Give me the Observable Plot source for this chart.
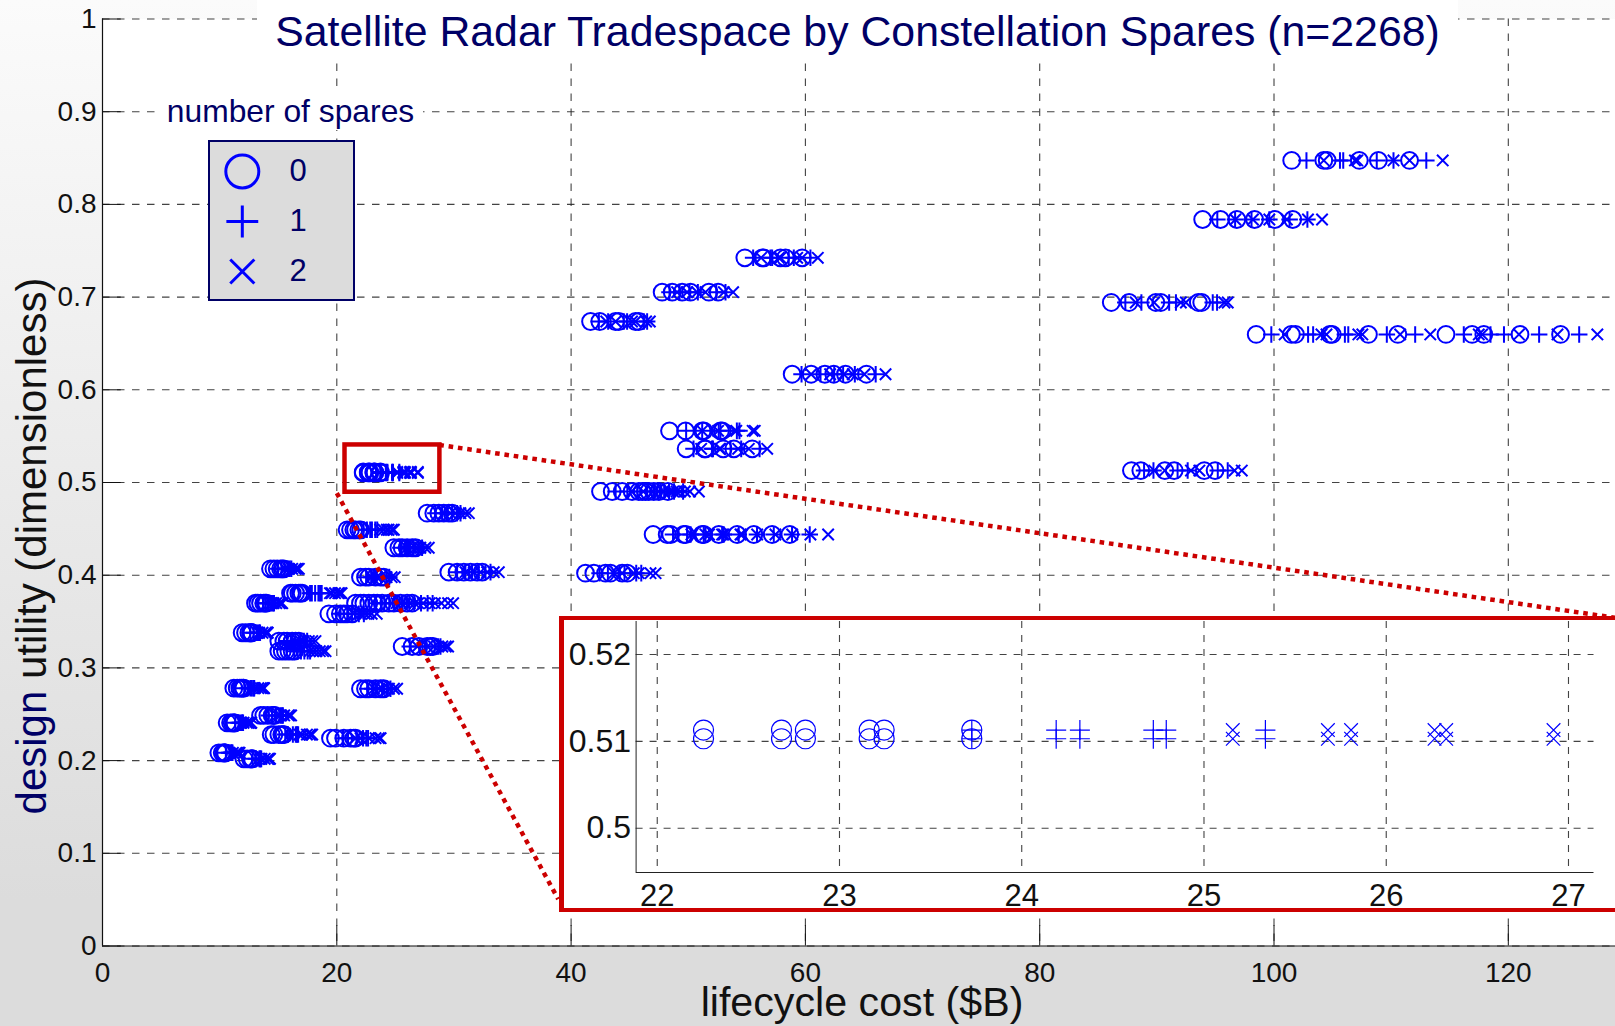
<!DOCTYPE html>
<html><head><meta charset="utf-8">
<script src="https://cdn.jsdelivr.net/npm/d3@7"></script>
<script src="https://cdn.jsdelivr.net/npm/@observablehq/plot@0.6"></script>
<style>
html,body{margin:0;padding:0;background:#fff}
#stage{position:relative;width:1615px;height:1026px;overflow:hidden;font-family:"Liberation Sans",sans-serif;
background:linear-gradient(180deg,#fbfbfb 0,#dcdcdc 900px,#dcdcdc 100%)}
#stage>*{position:absolute}
#title{left:257px;top:0;width:1201px;height:62px;background:#fff;color:#000066;font-size:42.8px;text-align:center;line-height:62px;white-space:nowrap}
#sparesTitle{left:158px;top:93px;width:265px;height:37px;background:#fff;color:#000066;font-size:31.8px;text-align:center;line-height:37px;white-space:nowrap}
#legendBox{left:208px;top:140px;width:147px;height:161px;box-sizing:border-box;border:2px solid #000066;background:#dcdcdc}
#insetBox{left:559px;top:616px;width:1100px;height:296px;box-sizing:border-box;border:solid #cc0000;border-width:4px 4px 4px 5px;background:#fff}
svg{overflow:visible}
</style></head><body>
<div id="stage"></div>
<script>
const chartTitle = "Satellite Radar Tradespace by Constellation Spares (n=2268)";
const xTicks = [0,20,40,60,80,100,120];
const yTicks = [0,0.1,0.2,0.3,0.4,0.5,0.6,0.7,0.8,0.9,1];
const insetXTicks = [22,23,24,25,26,27];
const insetYTicks = [0.5,0.51,0.52];
const spareLevels = [0,1,2];

const utilities = [0.8474,0.7837,0.7424,0.7053,0.6942,0.6737,0.6597,0.6168,0.5557,0.5363,0.5129,0.5113,0.5103,0.4903,0.4669,0.449,0.4439,0.4296,0.4069,0.4033,0.4022,0.3979,0.3806,0.3698,0.3698,0.3583,0.3379,0.3289,0.3231,0.318,0.2781,0.2775,0.2487,0.2408,0.2281,0.2242,0.2084,0.2019];

const spares0Costs = [
[101.51,104.25,104.54,107.28,108.91,111.57],
[93.91,95.43,96.83,98.34,100.08,101.6],
[54.83,56.31,56.45,57.87,58.3,59.72],
[47.77,48.63,49.48,50.19,51.76,52.55],
[86.11,87.63,89.91,90.34,93.54,93.83],
[41.66,42.45,43.79,44.07,45.5,45.78],
[98.48,101.48,101.83,104.77,104.97,108.06,110.57,114.68,116.91,117.91,121.0,124.46],
[58.87,60.49,61.66,62.42,63.42,65.21],
[48.4,49.77,51.19,51.33,52.75,52.9],
[49.82,51.39,51.48,52.98,53.89,55.46],
[87.83,88.63,90.68,91.48,94.05,94.97],
[22.254,22.682,22.813,23.163,23.245,23.726],
[22.254,22.682,22.813,23.163,23.245,23.726],
[42.51,43.51,44.36,45.21,45.78,46.07,46.35,46.64,47.06,47.49,48.26],
[27.71,28.28,28.71,29.13,29.56,29.85],
[20.88,21.17,21.45,21.6,21.88,22.05],
[47.0,48.2,48.5,49.62,49.77,51.19,51.33,52.61,54.17,55.6,57.16,58.67],
[24.87,25.3,25.58,26.0,26.43,26.72],
[14.34,14.63,14.91,15.2,15.34,15.48],
[29.56,30.27,30.84,31.41,31.98,32.41],
[41.23,41.94,42.94,43.36,44.36,44.79],
[22.02,22.45,22.73,23.3,23.73,24.0],
[16.05,16.2,16.48,16.76,16.9,17.04],
[13.06,13.26,13.49,13.77,13.9,14.0],
[21.6,22.02,22.31,22.73,23.16,23.45,23.87,24.44,24.87,25.44,26.0,26.43],
[19.32,19.89,20.3,20.6,20.88,21.31],
[11.92,12.21,12.49,12.63,12.7,12.75],
[15.05,15.48,15.76,16.19,16.48,16.76],
[25.58,26.43,27.0,27.71,28.0,28.2],
[15.05,15.34,15.62,15.91,16.19,16.4],
[11.21,11.5,11.72,11.85,12.0,12.05],
[22.02,22.45,22.73,23.3,23.73,24.0],
[13.49,13.77,14.11,14.48,14.6,14.7],
[10.64,10.93,11.07,11.2,11.25,11.3],
[14.4,14.63,15.05,15.3,15.4,15.5],
[19.46,19.89,20.6,21.17,21.45,21.6],
[9.93,10.22,10.36,10.4,10.45,10.5],
[12.07,12.35,12.63,12.7,12.75,12.8]
];
const spares1Costs = [
[102.77,105.63,105.91,108.77,110.2,113.0],
[95.16,96.68,98.08,99.6,101.33,102.85],
[55.54,57.02,57.16,58.58,59.01,60.43],
[48.4,49.26,50.11,50.82,52.39,53.18],
[87.31,88.68,91.05,91.63,94.77,95.14],
[42.37,43.16,44.5,44.78,46.21,46.49],
[99.77,102.91,103.34,106.05,106.34,109.63,112.05,116.2,118.48,119.63,122.63,126.05],
[59.67,61.29,62.46,63.22,64.22,66.0],
[49.82,51.19,52.6,52.75,54.15,54.37],
[50.45,52.02,52.11,53.61,54.52,56.09],
[88.91,89.71,91.77,92.63,95.2,96.05],
[23.726,24.189,24.319,24.722,24.793,25.337],
[23.726,24.189,24.319,24.722,24.793,25.337],
[43.8,44.8,45.66,46.5,47.08,47.37,47.65,47.94,48.36,48.79,49.56],
[28.42,28.99,29.42,29.84,30.27,30.56],
[22.28,22.57,22.85,23.0,23.28,23.45],
[48.7,49.9,50.2,51.32,51.47,52.89,53.03,54.31,55.87,57.3,58.86,60.37],
[25.43,25.86,26.14,26.56,26.99,27.28],
[14.98,15.27,15.55,15.84,15.98,16.12],
[30.27,30.98,31.55,32.12,32.69,33.12],
[42.43,43.14,44.14,44.56,45.56,45.99],
[22.5,22.93,23.21,23.78,24.21,24.48],
[17.72,17.87,18.15,18.43,18.57,18.71],
[13.7,13.9,14.13,14.41,14.54,14.64],
[23.35,23.77,24.06,24.48,24.91,25.2,25.62,26.19,26.62,27.19,27.75,28.18],
[20.32,20.89,21.3,21.6,21.88,22.31],
[12.62,12.91,13.19,13.33,13.4,13.45],
[15.76,16.19,16.47,16.9,17.19,17.47],
[26.23,27.08,27.65,28.36,28.65,28.85],
[16.37,16.66,16.94,17.23,17.51,17.72],
[12.1,12.4,12.62,12.75,12.9,12.95],
[22.6,23.03,23.31,23.88,24.31,24.58],
[14.19,14.47,14.81,15.18,15.3,15.4],
[11.34,11.63,11.77,11.9,11.95,12.0],
[15.6,15.83,16.25,16.5,16.6,16.7],
[20.53,20.96,21.67,22.24,22.52,22.67],
[10.53,10.82,10.96,11.0,11.05,11.1],
[12.82,13.1,13.38,13.45,13.5,13.55]
];
const spares2Costs = [
[104.25,106.91,107.11,110.2,111.57,114.4],
[96.7,98.2,99.6,101.1,102.9,104.1],
[56.22,57.73,57.87,59.3,59.72,61.06],
[49.05,49.9,50.76,51.47,53.04,53.83],
[88.2,89.77,92.05,92.48,95.77,96.05],
[43.0,43.8,45.2,45.5,46.4,46.72],
[100.91,104.05,104.48,107.2,107.54,110.77,113.34,117.48,117.77,120.91,124.2,127.6],
[60.49,62.11,63.28,64.04,65.04,66.84],
[51.19,52.55,53.96,54.1,55.5,55.68],
[51.1,52.67,52.76,54.26,55.17,56.74],
[89.77,90.68,92.91,93.63,96.63,97.25],
[25.158,25.68,25.807,26.265,26.329,26.918],
[25.158,25.68,25.807,26.265,26.329,26.918],
[45.16,46.16,47.01,47.86,48.43,48.72,49.0,49.29,49.71,50.14,50.91],
[29.13,29.7,30.13,30.55,30.98,31.27],
[23.7,23.99,24.27,24.42,24.7,24.87],
[50.27,51.47,51.77,52.89,53.04,54.46,54.6,55.88,57.44,58.87,60.43,61.94],
[26.0,26.43,26.71,27.13,27.56,27.85],
[15.62,15.91,16.19,16.48,16.62,16.76],
[30.98,31.69,32.26,32.83,33.4,33.83],
[43.65,44.36,45.36,45.78,46.78,47.21],
[22.97,23.4,23.68,24.25,24.68,24.95],
[19.42,19.57,19.85,20.13,20.27,20.41],
[14.4,14.6,14.83,15.11,15.24,15.34],
[25.1,25.52,25.81,26.23,26.66,26.95,27.37,27.94,28.37,28.94,29.5,29.93],
[21.42,21.99,22.4,22.7,22.98,23.41],
[13.37,13.66,13.94,14.08,14.0,14.1],
[16.47,16.9,17.18,17.61,17.9,18.18],
[26.88,27.73,28.3,29.01,29.3,29.5],
[17.69,17.98,18.26,18.55,18.83,19.04],
[13.0,13.3,13.52,13.65,13.75,13.8],
[23.17,23.6,23.88,24.45,24.88,25.15],
[14.89,15.17,15.51,15.88,16.0,16.1],
[12.04,12.33,12.47,12.6,12.65,12.7],
[16.8,17.03,17.45,17.7,17.8,17.9],
[21.6,22.03,22.74,23.31,23.59,23.74],
[11.13,11.42,11.56,11.6,11.65,11.7],
[13.57,13.85,14.13,14.2,14.25,14.3]
];

// Zoom box and its leader lines, in the main chart's data units
const zoomBoxX = [20.7,28.8];
const zoomBoxY = [0.4895,0.5405];
const leaderUpperX = [28.75,129.15];
const leaderUpperY = [0.5405,0.354];
const leaderLowerX = [20,38.9];
const leaderLowerY = [0.4885,0.0505];

const BLUE = "#0000ff", NAVY = "#000066", RED = "#cc0000";
const flatten = (costs) => costs.flatMap((row,i)=>row.map(x=>({x,y:utilities[i]})));
const rows0 = flatten(spares0Costs), rows1 = flatten(spares1Costs), rows2 = flatten(spares2Costs);
const inset = (rows)=>rows.filter(d=>d.y===0.5113||d.y===0.5103);
const stage = document.getElementById("stage");
const gridDash = "7.5 7.5";

const main = Plot.plot({
  width:1615,height:1026,marginLeft:102,marginRight:0,marginTop:18.5,marginBottom:80.5,
  style:{background:"transparent",fontFamily:"Liberation Sans, sans-serif",overflow:"visible"},
  x:{domain:[0,129.15],axis:null},
  y:{domain:[0,1],axis:null},
  marks:[
    Plot.frame({fill:"#fff",stroke:"none"}),
    Plot.gridY(yTicks,{stroke:"#222",strokeOpacity:0.85,strokeDasharray:gridDash,strokeWidth:1.1}),
    Plot.gridX(xTicks.slice(1),{stroke:"#222",strokeOpacity:0.85,strokeDasharray:gridDash,strokeWidth:1.1}),
    Plot.ruleX(xTicks,{y1:0,y2:0.022,stroke:"#111"}),
    Plot.ruleY(yTicks,{x1:0,x2:1.6,stroke:"#111"}),
    Plot.ruleX([0],{stroke:"#111",strokeWidth:1.2}),
    Plot.ruleY([0],{stroke:"#111",strokeWidth:1.2}),
    Plot.axisX(xTicks,{anchor:"bottom",tickSize:0,tickPadding:16,fontSize:28,fill:"#111",tickFormat:d=>String(d),label:null}),
    Plot.axisY(yTicks,{anchor:"left",tickSize:0,tickPadding:6,fontSize:28,fill:"#111",tickFormat:d=>String(d),label:null}),
    Plot.dot(rows0,{x:"x",y:"y",symbol:"circle",r:8.4,stroke:BLUE,strokeWidth:2,fill:"none"}),
    Plot.dot(rows1,{x:"x",y:"y",symbol:"plus",r:5.4,stroke:BLUE,strokeWidth:2}),
    Plot.dot(rows2,{x:"x",y:"y",symbol:"times",r:5.25,stroke:BLUE,strokeWidth:2}),
    Plot.rect([0],{x1:zoomBoxX[0],x2:zoomBoxX[1],y1:zoomBoxY[0],y2:zoomBoxY[1],fill:"none",stroke:RED,strokeWidth:4.5,inset:0}),
    Plot.line(leaderUpperX.map((x,i)=>({x,y:leaderUpperY[i]})),{x:"x",y:"y",stroke:RED,strokeWidth:4.5,strokeDasharray:"4.6 4.8",strokeLinecap:"butt"}),
    Plot.line(leaderLowerX.map((x,i)=>({x,y:leaderLowerY[i]})),{x:"x",y:"y",stroke:RED,strokeWidth:4.5,strokeDasharray:"4.6 4.8",strokeLinecap:"butt"})
  ]
});
const svg = d3.select(main);
svg.append("text").attr("x",862).attr("y",1016).attr("text-anchor","middle")
  .attr("font-size",41.2).attr("fill","#111").text("lifecycle cost ($B)");
const yl = svg.append("text").attr("transform","translate(46,546) rotate(-90)").attr("text-anchor","middle").attr("font-size",42);
yl.append("tspan").attr("fill",NAVY).text("design");
yl.append("tspan").attr("fill","#111").text(" utility (dimensionless)");
stage.appendChild(main);

const addDiv=(id,text)=>{const d=document.createElement("div");d.id=id;if(text)d.textContent=text;stage.appendChild(d);return d;};
addDiv("title",chartTitle);
addDiv("sparesTitle","number of spares");
addDiv("legendBox");
addDiv("insetBox");

const legend = Plot.plot({
  width:147,height:161,margin:0,
  style:{background:"transparent",fontFamily:"Liberation Sans, sans-serif"},
  x:{domain:[0,1],range:[0,147],axis:null},
  y:{domain:spareLevels,range:[30.7,131],type:"point",padding:0,axis:null},
  marks:[
    Plot.dot([0],{x:()=>0.23,y:d=>d,symbol:"circle",r:16.5,stroke:BLUE,strokeWidth:3,fill:"none"}),
    Plot.dot([1],{x:()=>0.23,y:d=>d,symbol:"plus",r:10.3,stroke:BLUE,strokeWidth:3}),
    Plot.dot([2],{x:()=>0.23,y:d=>d,symbol:"times",r:11,stroke:BLUE,strokeWidth:3}),
    Plot.text(spareLevels,{x:()=>0.61,y:d=>d,text:d=>String(d),fontSize:31,fill:NAVY})
  ]
});
legend.style.left="208px";legend.style.top="140px";
stage.appendChild(legend);

const insetPlot = Plot.plot({
  width:1053,height:289,marginLeft:73.6,marginRight:21.5,marginTop:2,marginBottom:36,
  style:{background:"transparent",fontFamily:"Liberation Sans, sans-serif",overflow:"visible"},
  x:{domain:[21.884,27.14],axis:null},
  y:{domain:[0.4949,0.5238],axis:null},
  marks:[
    Plot.gridY(insetYTicks,{stroke:"#222",strokeOpacity:0.85,strokeDasharray:"7 7",strokeWidth:1.1}),
    Plot.gridX(insetXTicks,{stroke:"#222",strokeOpacity:0.85,strokeDasharray:"7 7",strokeWidth:1.1}),
    Plot.ruleX([21.884],{stroke:"#222"}),
    Plot.ruleY([0.4949],{stroke:"#222"}),
    Plot.axisX(insetXTicks,{anchor:"bottom",tickSize:0,tickPadding:11,fontSize:31,fill:"#111",tickFormat:d=>String(d),label:null}),
    Plot.axisY(insetYTicks,{anchor:"left",tickSize:0,tickPadding:5,fontSize:32,fill:"#111",tickFormat:d=>String(d),label:null}),
    Plot.dot(inset(rows0),{x:"x",y:"y",symbol:"circle",r:10,stroke:BLUE,strokeWidth:1.2,fill:"none"}),
    Plot.dot(inset(rows1),{x:"x",y:"y",symbol:"plus",r:6.5,stroke:BLUE,strokeWidth:1.2}),
    Plot.dot(inset(rows2),{x:"x",y:"y",symbol:"times",r:6.25,stroke:BLUE,strokeWidth:1.2})
  ]
});
insetPlot.style.left="562px";insetPlot.style.top="619px";
stage.appendChild(insetPlot);
</script>
</body></html>
